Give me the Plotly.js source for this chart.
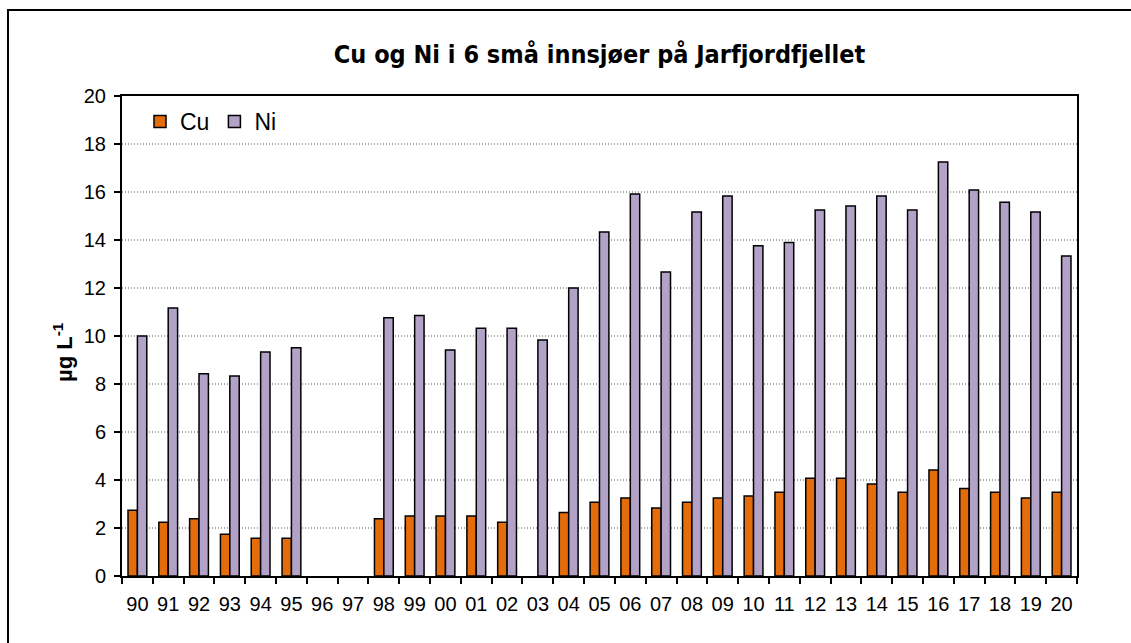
<!DOCTYPE html>
<html>
<head>
<meta charset="utf-8">
<script src="https://cdn.plot.ly/plotly-3.0.1.min.js"></script>
<style>
html,body{margin:0;padding:0;background:#fff;}
#chart{width:1131px;height:643px;}
</style>
</head>
<body>
<div id="chart"></div>
<script>
const years = ["90","91","92","93","94","95","96","97","98","99","00","01","02","03","04","05","06","07","08","09","10","11","12","13","14","15","16","17","18","19","20"];
const cu = [2.74,2.24,2.39,1.74,1.57,1.57,null,null,2.39,2.5,2.5,2.5,2.24,null,2.65,3.07,3.25,2.83,3.07,3.25,3.33,3.49,4.07,4.07,3.83,3.49,4.42,3.65,3.49,3.25,3.49];
const ni = [10.0,11.17,8.43,8.33,9.33,9.51,null,null,10.76,10.85,9.42,10.32,10.32,9.83,12.0,14.33,15.92,12.67,15.17,15.83,13.76,13.9,15.25,15.42,15.83,15.25,17.25,16.08,15.57,15.17,13.33];
const yTicks = [0,2,4,6,8,10,12,14,16,18,20];

const W = 1131, H = 643;
const L = 122, R = 1077, T = 96, B = 576;
const pw = R - L, ph = B - T;

const traces = [
  {type:'bar', name:'Cu', x:years, y:cu, marker:{color:'#E46C0A', line:{color:'#000', width:1.5}}},
  {type:'bar', name:'Ni', x:years, y:ni, marker:{color:'#B3A2C7', line:{color:'#000', width:1.5}}}
];

const layout = {
  width:W, height:H,
  margin:{l:L, r:W-R, t:T, b:H-B, pad:0},
  paper_bgcolor:'#fff', plot_bgcolor:'#fff',
  font:{family:'Liberation Sans, Arial, sans-serif', size:20, color:'#000'},
  title:{text:'<b>Cu og Ni i 6 små innsjøer på Jarfjordfjellet</b>', font:{family:'DejaVu Sans Condensed, DejaVu Sans, sans-serif', size:25, color:'#000'},
         x:(L+R)/2/W, xanchor:'center', xref:'container', y:1-54/H, yanchor:'middle', yref:'container'},
  barmode:'group', bargap:0.39, bargroupgap:0,
  showlegend:true,
  legend:{orientation:'h', x:(140-L)/pw, xanchor:'left', y:1-(100-T)/ph, yanchor:'top', font:{size:23}, bgcolor:'rgba(0,0,0,0)', itemwidth:30, tracegroupgap:0},
  xaxis:{type:'category', showgrid:false, showline:true, linecolor:'#000', linewidth:2, mirror:true,
         ticks:'outside', tickson:'boundaries', ticklen:6, tickcolor:'#000', tickwidth:2,
         tickangle:0, tickfont:{size:20}, ticklabelstandoff:9, fixedrange:true},
  yaxis:{range:[0,20], tickvals:yTicks, ticktext:yTicks.map(String), showgrid:true, gridcolor:'#a8a8a8', griddash:'1px,2px', gridwidth:1.5,
         showline:true, linecolor:'#000', linewidth:2, mirror:true, zeroline:false,
         ticks:'outside', ticklen:6, tickcolor:'#000', tickwidth:2, tickfont:{size:20}, ticklabelstandoff:4,
         fixedrange:true},
  annotations:[{text:'<b>µg L<sup>-1</sup></b>', xref:'paper', yref:'paper', x:(63-L)/pw, y:(B-352)/ph,
                xanchor:'center', yanchor:'middle', textangle:-90, showarrow:false, font:{size:22, color:'#000'}}],
  shapes:[{type:'rect', xref:'paper', yref:'paper',
           x0:(8-L)/pw, x1:(W+10-L)/pw, y0:(B-(H+10))/ph, y1:(B-10)/ph,
           line:{color:'#000', width:2}, fillcolor:'rgba(0,0,0,0)', layer:'above'}]
};

Plotly.newPlot('chart', traces, layout, {displayModeBar:false, staticPlot:true});
</script>
</body>
</html>
